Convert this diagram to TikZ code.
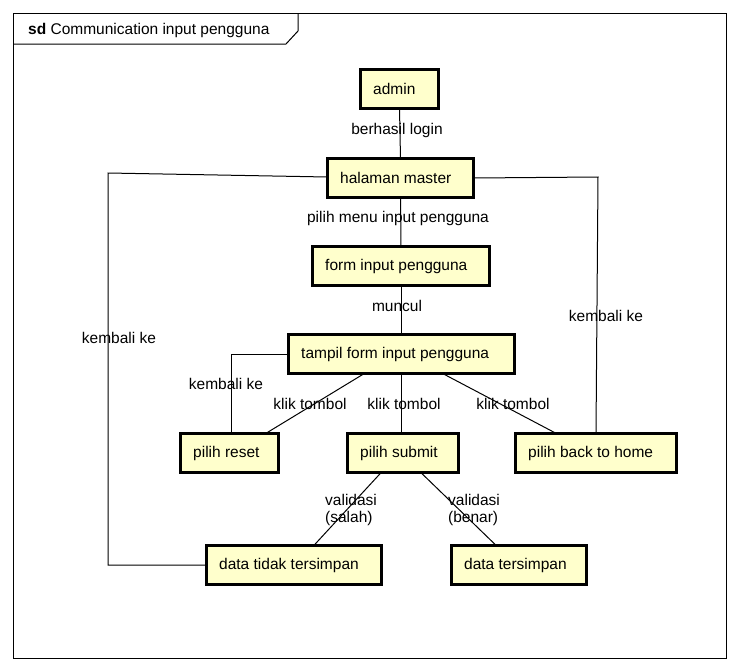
\documentclass[tikz,border=0pt]{standalone}
\usepackage{fontspec}
\setmainfont{Liberation Sans}
\definecolor{boxfill}{RGB}{255,255,204}
\begin{document}
\begin{tikzpicture}[x=1pt,y=-1pt,
  every node/.style={font=\fontsize{15.5}{17}\selectfont},
  obj/.style={draw=black,line width=3pt,fill=boxfill,inner sep=0pt,anchor=west},
  conn/.style={draw=black,line width=1pt},
  lbl/.style={inner sep=0pt,fill=none}]
\useasboundingbox[fill=white] (0,0) rectangle (740,672);
% frame
\draw[line width=1pt] (13,13) rectangle (726,658);
\draw[line width=1pt] (298,13) -- (298,31) -- (286,44) -- (13,44);
\node[lbl,anchor=west] (title) at (28,30) {\textbf{sd} Communication input pengguna};
% boxes (drawn as rectangles with named nodes)
\newcommand{\objbox}[6]{%
  \draw[line width=3pt,fill=boxfill] (#2+1.5,#3+1.5) rectangle (#4-1.5,#5-1.5);
  \node[inner sep=0pt,minimum width={#4-#2-3},minimum height={#5-#3-3}] (#1) at ({(#2+#4)/2},{(#3+#5)/2}) {};
  \node[lbl,anchor=west] at (#2+14,{(#3+#5)/2}) {#6};}
\objbox{admin}{359}{68}{440}{110}{admin}
\objbox{master}{326}{157}{475}{199}{halaman master}
\objbox{form}{311}{245}{491}{287}{form input pengguna}
\objbox{tampil}{287}{333}{516}{375}{tampil form input pengguna}
\objbox{reset}{179}{432}{280}{474}{pilih reset}
\objbox{submit}{346}{432}{460}{474}{pilih submit}
\objbox{back}{514}{432}{678}{474}{pilih back to home}
\objbox{tidak}{205}{544}{383}{586}{data tidak tersimpan}
\objbox{simpan}{450}{544}{588}{586}{data tersimpan}
% connectors
\coordinate (cL1) at (108,173);
\coordinate (cL2) at (108,565);
\coordinate (cR1) at (598,177);
\coordinate (cT1) at (231,354);
\draw[conn] (admin.south) -- (master.north);
\draw[conn] (master.south) -- (form.north);
\draw[conn] (form.south -| 401,0) -- (tampil.north -| 401,0);
\draw[conn] (tampil.west |- 0,354) -- (cT1) -- (cT1 |- reset.north);
\draw[conn] (tampil.south -| 364,0) -- (reset.north -| 266,0);
\draw[conn] (tampil.south -| 401,0) -- (submit.north -| 401,0);
\draw[conn] (tampil.south -| 443,0) -- (back.north -| 556,0);
\draw[conn] (master.west |- 0,177) -- (cL1) -- (cL2) -- (tidak.west |- cL2);
\draw[conn] (master.east |- 0,178) -- (cR1) -- (back.north -| 596,0);
\draw[conn] (submit.south -| 381,0) -- (tidak.north -| 314,0);
\draw[conn] (submit.south -| 421,0) -- (simpan.north -| 496,0);
% labels
\node[lbl] (l1) at (397,130) {berhasil login};
\node[lbl] (l2) at (398,218) {pilih menu input pengguna};
\node[lbl] (l3) at (397,306) {muncul};
\node[lbl] (l4) at (119,338) {kembali ke};
\node[lbl] (l5) at (606,316) {kembali ke};
\node[lbl] (l6) at (226,384) {kembali ke};
\node[lbl] (l7) at (310,404) {klik tombol};
\node[lbl] (l8) at (404,404) {klik tombol};
\node[lbl] (l9) at (513,404) {klik tombol};
\node[lbl,anchor=west,align=left] (l10) at (325,510) {validasi\\(salah)};
\node[lbl,anchor=west,align=left] (l11) at (448,510) {validasi\\(benar)};
\end{tikzpicture}
\end{document}
